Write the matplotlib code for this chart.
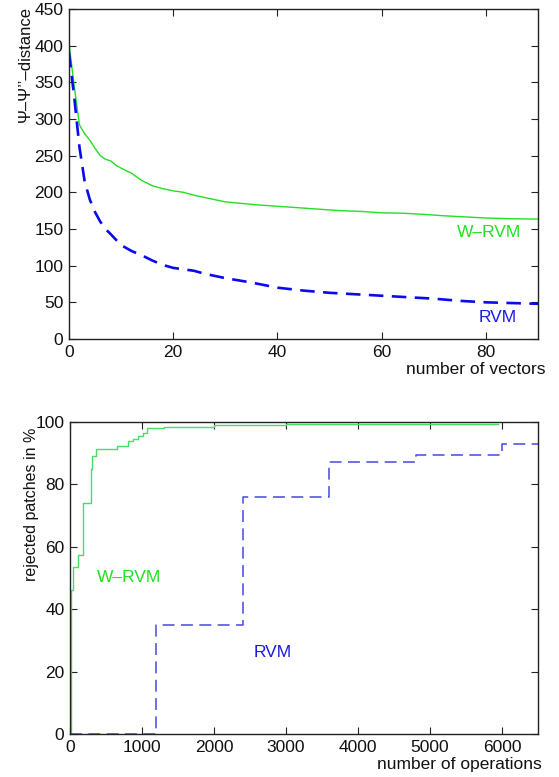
import matplotlib
matplotlib.use("Agg")
import matplotlib.pyplot as plt
from matplotlib.ticker import MultipleLocator

plt.rcParams['font.family'] = ['Liberation Sans', 'DejaVu Sans']

# ---------------- data: top panel ----------------
top_wrvm_x = [0, 1, 2, 3, 4, 5, 6, 7, 8, 9, 10, 12, 14, 16, 18, 20, 22, 24, 26, 28, 30,
              33, 36, 40, 44, 48, 52, 56, 60, 64, 68, 72, 76, 80, 85, 90]
top_wrvm_y = [403, 345, 292, 280, 271, 260, 250, 245, 243, 237, 233, 226, 216, 209, 205, 202,
              200, 196, 193, 190, 187, 185, 183, 181, 179, 177, 175, 174, 172, 171.5, 170,
              168, 166.5, 165, 164, 163.5]
top_rvm_x = [0, 1, 2, 3, 4, 5, 6, 7, 8, 10, 12, 14, 16, 18, 20, 22, 24, 26, 28, 30,
             35, 40, 45, 50, 55, 60, 65, 70, 75, 80, 85, 90]
top_rvm_y = [390, 330, 262, 215, 190, 173, 160, 150, 143, 128, 120, 114, 107, 101, 97, 95,
             93, 89, 86, 83, 77, 70, 66, 63, 61, 59, 57, 55, 52, 50, 49, 48]

# ---------------- data: bottom panel (step curves) ----------------
bot_wrvm_x = [0, 20, 40, 110, 185, 285, 305, 356, 648, 800, 870, 948, 1018, 1065, 1300,
              2000, 3000, 4000, 5950]
bot_wrvm_y = [0, 46, 53.5, 57.5, 74, 85, 89, 91.5, 92.3, 93.8, 94.6, 95.6, 96.5, 98.2, 98.5,
              99.1, 99.4, 99.5, 99.5]
bot_rvm_x = [0, 1200, 2400, 3600, 4800, 6000, 6500]
bot_rvm_y = [0, 35, 76, 87.3, 89.3, 93.1, 93.1]

W, H = 559, 777
fig = plt.figure(figsize=(W / 100, H / 100), dpi=100)

green = '#22e022'
green2 = '#44e066'
blue = '#0a0af0'
blue2 = '#4848e0'
spine_c = '#222222'


def px_ax(l, t, r, b):
    return fig.add_axes([l / W, 1 - b / H, (r - l) / W, (b - t) / H])


def style(ax):
    for s in ax.spines.values():
        s.set_color(spine_c)
        s.set_linewidth(1.0)
    ax.tick_params(direction='in', which='both', top=True, right=True, length=5,
                   width=0.8, color=spine_c, labelsize=12.5, pad=4, labelcolor='#111111')


# ---------------- top panel ----------------
ax1 = px_ax(69, 9, 538, 339)
ax1.plot(top_wrvm_x, top_wrvm_y, color=green, lw=1.0)
ax1.plot(top_rvm_x, top_rvm_y, color=blue, lw=1.9, dashes=(5.5, 3.2))
ax1.set_xlim(0, 90)
ax1.set_ylim(0, 450)
ax1.xaxis.set_major_locator(MultipleLocator(20))
ax1.yaxis.set_major_locator(MultipleLocator(50))
style(ax1)
ax1.text(74.5, 145, 'W–RVM', color=green, fontsize=12.5, ha='left', va='center')
ax1.text(78.6, 30, 'RVM', color='#1a1ae6', fontsize=12.5, ha='left', va='center')
fig.text(546 / W, 1 - 370 / H, 'number of vectors', ha='right', va='center',
         fontsize=12.5, color='#111111')
fig.text(25 / W, 1 - 6 / H, 'Ψ–Ψ’’–distance', rotation=90, ha='center', va='top',
         fontsize=12, color='#111111')

# ---------------- bottom panel ----------------
ax2 = px_ax(70, 422, 538, 734)
ax2.plot(bot_wrvm_x, bot_wrvm_y, color=green2, lw=1.0, drawstyle='steps-post')
ax2.plot(bot_rvm_x, bot_rvm_y, color=blue2, lw=1.1, dashes=(7.8, 4.2), drawstyle='steps-post')
ax2.set_xlim(0, 6500)
ax2.set_ylim(0, 100)
ax2.xaxis.set_major_locator(MultipleLocator(1000))
ax2.yaxis.set_major_locator(MultipleLocator(20))
style(ax2)
ax2.text(370, 50, 'W–RVM', color=green, fontsize=12.5, ha='left', va='center')
ax2.text(2555, 26, 'RVM', color='#1a1ae6', fontsize=12.5, ha='left', va='center')
fig.text(542 / W, 1 - 765 / H, 'number of operations', ha='right', va='center',
         fontsize=12.5, color='#111111')
fig.text(32 / W, 1 - 428 / H, 'rejected patches in %', rotation=90, ha='center', va='top',
         fontsize=11.5, color='#111111')

fig.savefig('out.png', dpi=100)
